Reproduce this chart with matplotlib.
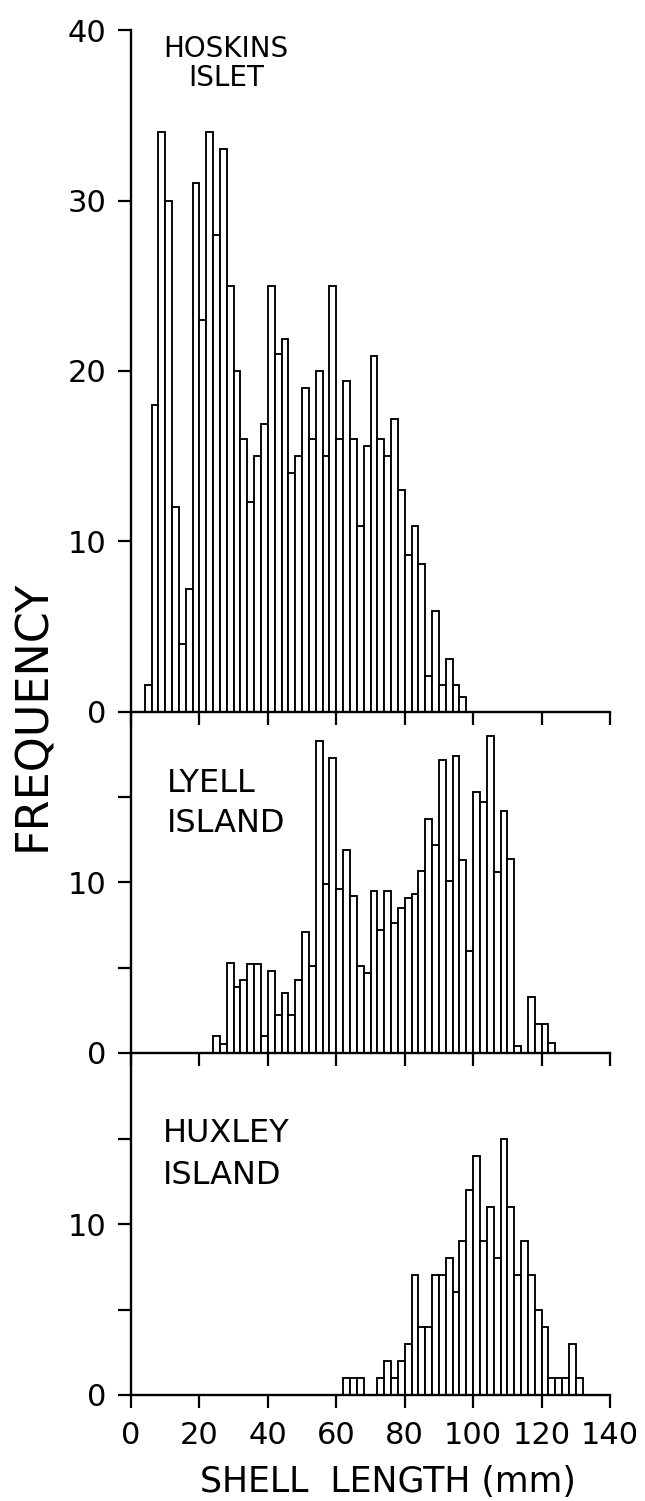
import matplotlib
matplotlib.use("Agg")
import matplotlib.pyplot as plt
import numpy as np

plt.rcParams['font.family'] = ['DejaVu Sans']

# ---- data (2 mm size classes, left edge of first class given) ----
bin_width = 2
x_ticks = [0, 20, 40, 60, 80, 100, 120, 140]

hoskins_label = "HOSKINS\nISLET"
hoskins_start = 4
hoskins_freq = [1.6, 18, 34, 30, 12, 4, 7.2, 31, 23, 34, 28, 33, 25, 20, 16, 12.3,
                15, 16.9, 25, 21, 21.9, 14, 15, 19, 16, 20, 15, 25, 16, 19.4, 16,
                10.9, 15.6, 20.9, 16, 15, 17.2, 13, 9.2, 10.9, 8.7, 2.1, 5.9, 1.6,
                3.1, 1.6, 0.9]

lyell_label = "LYELL\nISLAND"
lyell_start = 24
lyell_freq = [1.0, 0.5, 5.3, 3.9, 4.3, 5.2, 5.2, 1.0, 4.8, 2.2, 3.5, 2.2, 4.3, 7.1,
              5.1, 18.3, 9.9, 17.3, 9.6, 11.9, 9.2, 5.1, 4.7, 9.5, 7.2, 9.5, 7.6,
              8.5, 9.1, 9.3, 10.7, 13.7, 12.2, 17.2, 10.1, 17.4, 11.3, 6.0, 15.3,
              14.7, 18.6, 10.6, 14.2, 11.4, 0.4, 0, 3.3, 1.7, 1.7, 0.6]

huxley_label = "HUXLEY\nISLAND"
huxley_start = 62
huxley_freq = [1, 1, 1, 0, 0, 1, 2, 1, 2, 3, 7, 4, 4, 7, 7, 8, 6, 9, 12, 14, 9, 11,
               8, 15, 11, 7, 9, 7, 5, 4, 1, 1, 1, 3, 1]

top_yticks = [0, 10, 20, 30, 40]
top_ylabels = ['0', '10', '20', '30', '40']
low_yticks = [0, 5, 10, 15]
low_ylabels = ['0', '', '10', '']

x_label = "SHELL  LENGTH (mm)"
y_label = "FREQUENCY"

# ---- figure ----
W, H = 645, 1501
fig = plt.figure(figsize=(W / 100, H / 100), dpi=100)

left = 131 / W
width = 479 / W

def fy(py):
    return 1 - py / H

panels = [
    (hoskins_freq, hoskins_start, 40, top_yticks, top_ylabels, 30, 712),
    (lyell_freq, lyell_start, 20, low_yticks, low_ylabels, 712, 1053),
    (huxley_freq, huxley_start, 20, low_yticks, low_ylabels, 1053, 1395),
]

axes = []
for i, (freq, start, ymax, yt, yl, ptop, pbot) in enumerate(panels):
    ax = fig.add_axes([left, fy(pbot), width, (pbot - ptop) / H])
    edges = start + bin_width * np.arange(len(freq))
    ax.bar(edges, freq, width=bin_width, align='edge', facecolor='white',
           edgecolor='black', linewidth=1.35, zorder=2)
    ax.set_xlim(0, 140)
    ax.set_ylim(0, ymax)
    ax.set_xticks(x_ticks)
    ax.set_yticks(yt)
    ax.set_yticklabels(yl)
    for s in ['top', 'right']:
        ax.spines[s].set_visible(False)
    for s in ['left', 'bottom']:
        ax.spines[s].set_linewidth(1.7)
        ax.spines[s].set_zorder(3)
    ax.tick_params(axis='both', direction='out', length=9.5, width=1.6,
                   labelsize=22)
    ax.tick_params(axis='y', pad=8)
    ax.tick_params(axis='x', pad=9)
    if i < 2:
        ax.tick_params(axis='x', labelbottom=False)
    ax.patch.set_alpha(0)
    axes.append(ax)

# panel labels
fig.text(226 / W, fy(35), hoskins_label, ha='center', va='top', fontsize=20,
         linespacing=1.05, multialignment='center')
fig.text(167 / W, fy(768), lyell_label, ha='left', va='top', fontsize=23,
         linespacing=1.38, multialignment='left')
fig.text(163 / W, fy(1118), huxley_label, ha='left', va='top', fontsize=23,
         linespacing=1.45, multialignment='left')

fig.text(388 / W, fy(1492), x_label, ha='center', va='baseline', fontsize=25)
fig.text(33 / W, fy(715), y_label, ha='center', va='center', fontsize=32,
         rotation=90)

fig.savefig("out.png", dpi=100)
